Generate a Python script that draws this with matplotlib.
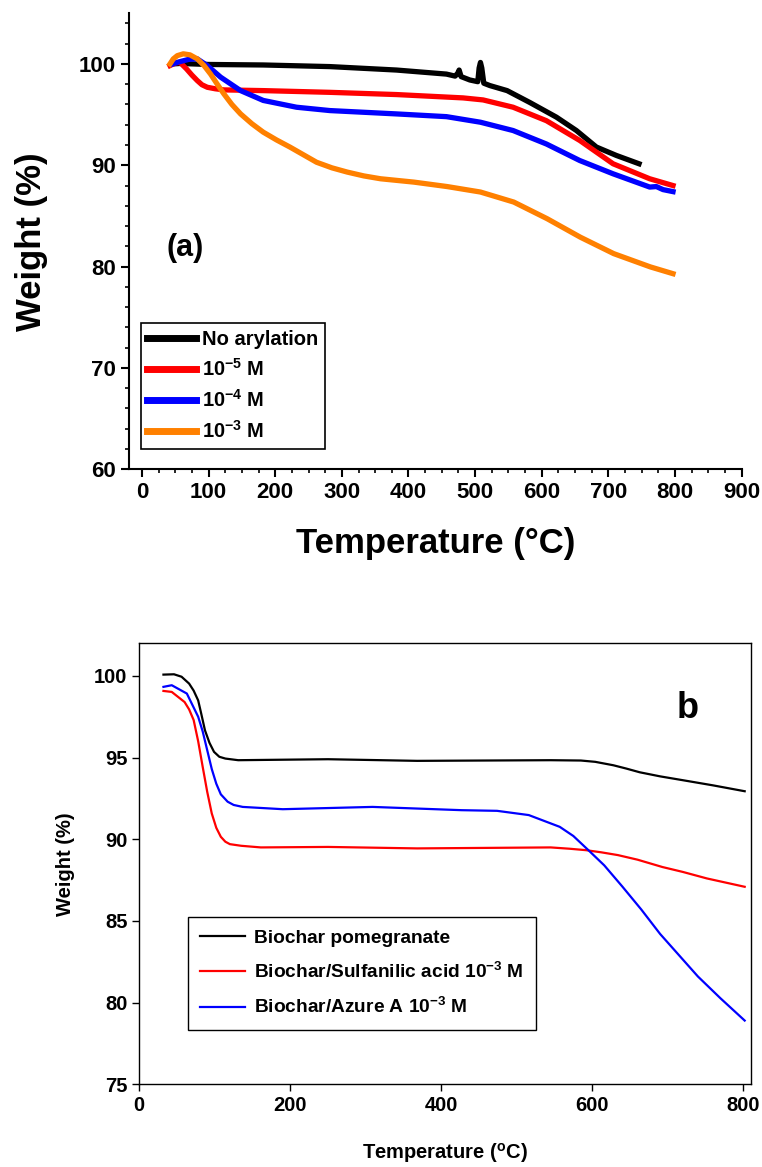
import numpy as np
import matplotlib
matplotlib.use('Agg')
import matplotlib.pyplot as plt

# ---- panel (a) data : TGA, arylation level ----
temp_none = [45, 57, 100, 182, 282, 382, 457, 470, 474, 476, 479, 492, 504, 506, 508, 510, 513, 522, 548, 582, 622, 652, 682, 712, 746]
wt_none = [100.0, 100.05, 99.95, 99.9, 99.74, 99.4, 99.0, 98.8, 99.1, 99.4, 98.75, 98.42, 98.25, 99.6, 100.15, 99.6, 98.1, 97.87, 97.37, 96.2, 94.75, 93.43, 91.8, 90.97, 90.15]

temp_m5 = [42, 50, 57, 67, 75, 83, 90, 98, 110, 123, 182, 282, 382, 482, 512, 557, 607, 657, 707, 762, 797]
wt_m5 = [99.84, 100.1, 100.16, 99.5, 98.9, 98.36, 97.95, 97.7, 97.55, 97.44, 97.37, 97.2, 96.98, 96.65, 96.45, 95.73, 94.4, 92.45, 90.15, 88.67, 88.0]

temp_m4 = [46, 53, 70, 83, 98, 118, 148, 182, 232, 282, 382, 457, 508, 557, 607, 657, 707, 762, 772, 782, 797]
wt_m4 = [100.0, 100.16, 100.45, 100.5, 99.84, 98.7, 97.37, 96.4, 95.73, 95.4, 95.07, 94.8, 94.25, 93.43, 92.1, 90.47, 89.16, 87.85, 87.9, 87.6, 87.4]

temp_m3 = [42, 47, 53, 62, 72, 83, 93, 103, 113, 123, 135, 148, 165, 182, 202, 222, 242, 262, 285, 308, 333, 358, 408, 458, 508, 558, 608, 658, 708, 763, 797]
wt_m3 = [100.0, 100.5, 100.82, 101.0, 100.9, 100.5, 99.85, 99.0, 98.0, 97.04, 96.0, 95.07, 94.1, 93.27, 92.5, 91.8, 91.05, 90.3, 89.75, 89.33, 88.95, 88.67, 88.34, 87.9, 87.36, 86.37, 84.73, 82.9, 81.28, 79.97, 79.3]

# ---- panel (b) data ----
temp_bio = [32, 46, 56, 66, 72, 78, 82, 87, 93, 99, 106, 114, 131, 250, 368, 545, 585, 604, 628, 645, 663, 690, 722, 760, 802]
wt_bio = [100.08, 100.1, 99.95, 99.53, 99.1, 98.5, 97.7, 96.67, 95.9, 95.35, 95.05, 94.94, 94.84, 94.9, 94.8, 94.84, 94.82, 94.74, 94.53, 94.33, 94.1, 93.85, 93.6, 93.3, 92.94]

temp_sulf = [32, 43, 60, 66, 72, 78, 84, 90, 96, 102, 108, 114, 120, 135, 161, 250, 368, 545, 570, 592, 612, 634, 660, 693, 720, 752, 802]
wt_sulf = [99.08, 99.02, 98.4, 97.95, 97.3, 96.0, 94.43, 92.9, 91.58, 90.7, 90.15, 89.85, 89.7, 89.6, 89.5, 89.53, 89.44, 89.5, 89.42, 89.33, 89.2, 89.03, 88.75, 88.3, 88.0, 87.6, 87.09]

temp_azure = [32, 43, 63, 78, 84, 90, 96, 102, 108, 117, 125, 137, 190, 309, 427, 474, 516, 557, 575, 595, 616, 640, 665, 690, 715, 740, 770, 802]
wt_azure = [99.33, 99.43, 98.92, 97.5, 96.6, 95.45, 94.3, 93.4, 92.75, 92.3, 92.1, 91.98, 91.84, 91.98, 91.78, 91.74, 91.48, 90.76, 90.2, 89.33, 88.4, 87.1, 85.7, 84.2, 82.9, 81.6, 80.26, 78.9]

labels_a = ['No arylation', '10$^{-5}$ M', '10$^{-4}$ M', '10$^{-3}$ M']
labels_b = ['Biochar pomegranate', 'Biochar/Sulfanilic acid 10$^{-3}$ M', 'Biochar/Azure A 10$^{-3}$ M']

plt.rcParams['font.family'] = ['Liberation Sans', 'DejaVu Sans']
plt.rcParams['font.weight'] = 'bold'
plt.rcParams['mathtext.fontset'] = 'custom'
plt.rcParams['mathtext.rm'] = 'Liberation Sans:bold'
plt.rcParams['mathtext.bf'] = 'Liberation Sans:bold'
plt.rcParams['mathtext.default'] = 'rm'

fig = plt.figure(figsize=(7.62, 11.67), dpi=100)

# ---------------- panel (a) ----------------
ax1 = fig.add_axes([0.1697, 0.5979, 0.9733 - 0.1697, 0.9886 - 0.5979])
lw = 3.8
ax1.plot(temp_none, wt_none, c='black', lw=lw, label=labels_a[0])
ax1.plot(temp_m5, wt_m5, c='red', lw=lw, label=labels_a[1])
ax1.plot(temp_m4, wt_m4, c='blue', lw=lw, label=labels_a[2])
ax1.plot(temp_m3, wt_m3, c='#ff8000', lw=lw, label=labels_a[3])

ax1.set_xlim(-19, 900)
ax1.set_ylim(60, 105)
ax1.set_xticks(np.arange(0, 901, 100))
ax1.set_xticks(np.arange(0, 901, 25), minor=True)
ax1.set_yticks(np.arange(60, 101, 10))
ax1.set_yticks(np.arange(60, 105, 2), minor=True)
for s in ['top', 'right']:
    ax1.spines[s].set_visible(False)
for s in ['left', 'bottom']:
    ax1.spines[s].set_linewidth(1.5)
ax1.tick_params(which='major', direction='out', length=6, width=1.5, labelsize=16)
ax1.tick_params(which='minor', direction='out', length=3, width=1.2)
for t in ax1.get_xticklabels() + ax1.get_yticklabels():
    t.set_fontweight('bold')
ax1.set_xlabel('Temperature (°C)', fontsize=25, fontweight='bold')
ax1.set_ylabel('Weight (%)', fontsize=25, fontweight='bold')
ax1.xaxis.set_label_coords(0.5, -0.127)
ax1.yaxis.set_label_coords(-0.133, 0.5)
ax1.text(65, 81.8, '(a)', fontsize=22, fontweight='bold', ha='center', va='center')

leg1 = ax1.legend(loc='upper left', bbox_to_anchor=(0.0186, 0.3208), fancybox=False,
                  edgecolor='black', framealpha=1, fontsize=14.5, handlelength=2.4,
                  handletextpad=0.3, labelspacing=0.46, borderpad=0.33, borderaxespad=0)
leg1.get_frame().set_linewidth(1.2)
for line in leg1.get_lines():
    line.set_linewidth(5)

# ---------------- panel (b) ----------------
ax2 = fig.add_axes([0.1828, 0.0709, 0.9852 - 0.1828, 0.4488 - 0.0709])
ax2.plot(temp_bio, wt_bio, c='black', lw=1.6, label=labels_b[0])
ax2.plot(temp_sulf, wt_sulf, c='red', lw=1.6, label=labels_b[1])
ax2.plot(temp_azure, wt_azure, c='blue', lw=1.6, label=labels_b[2])

ax2.set_xlim(0, 810)
ax2.set_ylim(75, 102)
ax2.set_xticks(np.arange(0, 801, 200))
ax2.set_yticks(np.arange(75, 101, 5))
for s in ax2.spines.values():
    s.set_linewidth(1.0)
ax2.tick_params(direction='out', length=5, width=1.0, labelsize=14.5)
for t in ax2.get_xticklabels() + ax2.get_yticklabels():
    t.set_fontweight('bold')
ax2.set_xlabel('Temperature ($^{o}$C)', fontsize=14.5, fontweight='bold')
ax2.set_ylabel('Weight (%)', fontsize=14.5, fontweight='bold')
ax2.xaxis.set_label_coords(0.5, -0.128)
ax2.yaxis.set_label_coords(-0.105, 0.5)
ax2.text(0.897, 0.853, 'b', transform=ax2.transAxes, fontsize=26, fontweight='bold',
         ha='center', va='center')

leg2 = ax2.legend(loc='upper left', bbox_to_anchor=(0.0797, 0.38), fancybox=False,
                  edgecolor='black', framealpha=1, fontsize=13.8, handlelength=2.3,
                  handletextpad=0.5, labelspacing=0.8, borderpad=0.65, borderaxespad=0)
leg2.get_frame().set_linewidth(1.0)

fig.savefig('out.png', dpi=100)
